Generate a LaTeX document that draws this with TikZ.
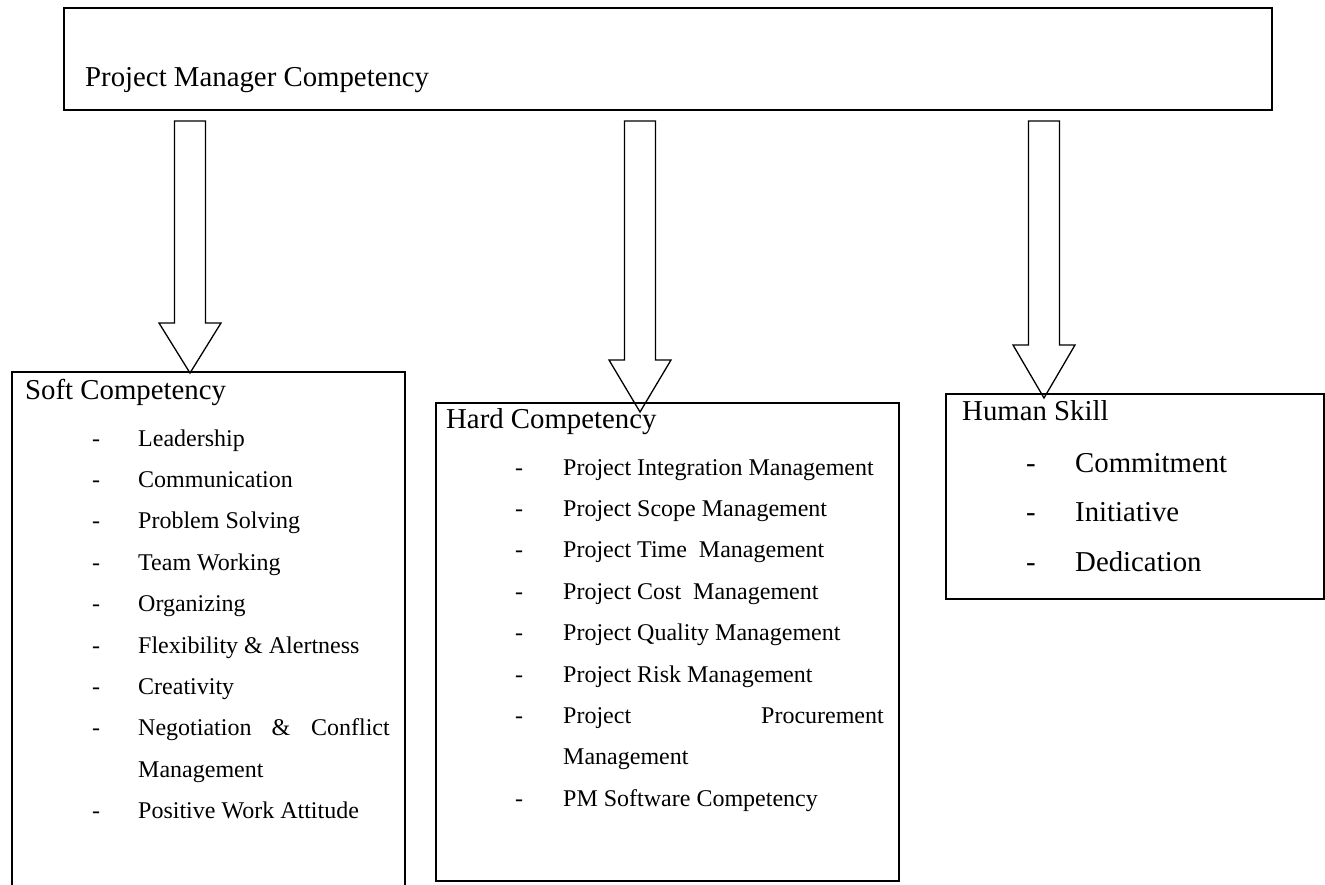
\documentclass[tikz,border=0pt]{standalone}
\usepackage{fontspec}
\setmainfont{Liberation Serif}
\newcommand\smalltxt{\fontsize{24}{28}\selectfont}
\newcommand\bigtxt{\fontsize{28.8}{34}\selectfont}
\newcommand\blockarrow[5]{%
  \draw[blockarrow] (#2-15.5,#3) -- (#2-15.5,#4) -- (#2-31,#4) -- (#2,#5) -- (#2+31,#4) -- (#2+15.5,#4) -- (#2+15.5,#3) -- cycle;
  \coordinate (#1) at (#2,#5);}
\begin{document}
\begin{tikzpicture}[x=1pt,y=-1pt,
  box/.style={draw, line width=1.8pt, inner sep=0pt, anchor=north west},
  blockarrow/.style={draw, line width=1.3pt, line join=miter},
  itm/.style={anchor=base west, inner sep=0pt, font=\smalltxt},
  itmr/.style={anchor=base east, inner sep=0pt, font=\smalltxt},
  big/.style={anchor=base west, inner sep=0pt, font=\bigtxt}]
\useasboundingbox (0,0) rectangle (1325,885);
\clip (0,0) rectangle (1325,885);
% boxes
\node[box, minimum width=1208pt, minimum height=102pt] (pm) at (63,7) {};
\node[box, minimum width=393pt, minimum height=560pt] (soft) at (11,371) {};
\node[box, minimum width=463pt, minimum height=478pt] (hard) at (435,402) {};
\node[box, minimum width=378pt, minimum height=205pt] (human) at (945,393) {};
% title
\node[big] (title) at (85,87) {Project Manager Competency};
% arrows
\blockarrow{a1}{190}{121}{323}{373}
\blockarrow{a2}{640}{121}{360}{412}
\blockarrow{a3}{1044}{121}{345}{398}
% soft
\node[big] (softh) at (25,399) {Soft Competency};
\foreach \t [count=\i from 0] in {Leadership,Communication,Problem Solving,Team Working,Organizing,Flexibility \& Alertness,Creativity} {
  \node[itm] (sd\i) at (92,446+41.4*\i) {-};
  \node[itm] (st\i) at (138,446+41.4*\i) {\t};
}
\node[itm] (sd7) at (92,735.8) {-};
\node[itm] (st7a) at (138,735.8) {Negotiation};
\node[itm] (st7b) at (271.5,735.8) {\&};
\node[itmr] (st7c) at (390,735.8) {Conflict};
\node[itm] (st8) at (138,777.2) {Management};
\node[itm] (sd9) at (92,818.6) {-};
\node[itm] (st9) at (138,818.6) {Positive Work Attitude};
% hard
\node[big] (hardh) at (446,428) {Hard Competency};
\foreach \t [count=\i from 0] in {Project Integration Management,Project Scope Management,Project Time\ \ Management,Project Cost\ \ Management,Project Quality Management,Project Risk Management} {
  \node[itm] (hd\i) at (515,475+41.4*\i) {-};
  \node[itm] (ht\i) at (563,475+41.4*\i) {\t};
}
\node[itm] (hd6) at (515,723.4) {-};
\node[itm] (ht6a) at (563,723.4) {Project};
\node[itmr] (ht6b) at (884,723.4) {Procurement};
\node[itm] (ht7) at (563,764.8) {Management};
\node[itm] (hd8) at (515,806.2) {-};
\node[itm] (ht8) at (563,806.2) {PM Software Competency};
% human
\node[big] (humanh) at (962,420) {Human Skill};
\foreach \t [count=\i from 0] in {Commitment,Initiative,Dedication} {
  \node[big] (ud\i) at (1026,472+49.5*\i) {-};
  \node[big] (ut\i) at (1075,472+49.5*\i) {\t};
}
\end{tikzpicture}
\end{document}
